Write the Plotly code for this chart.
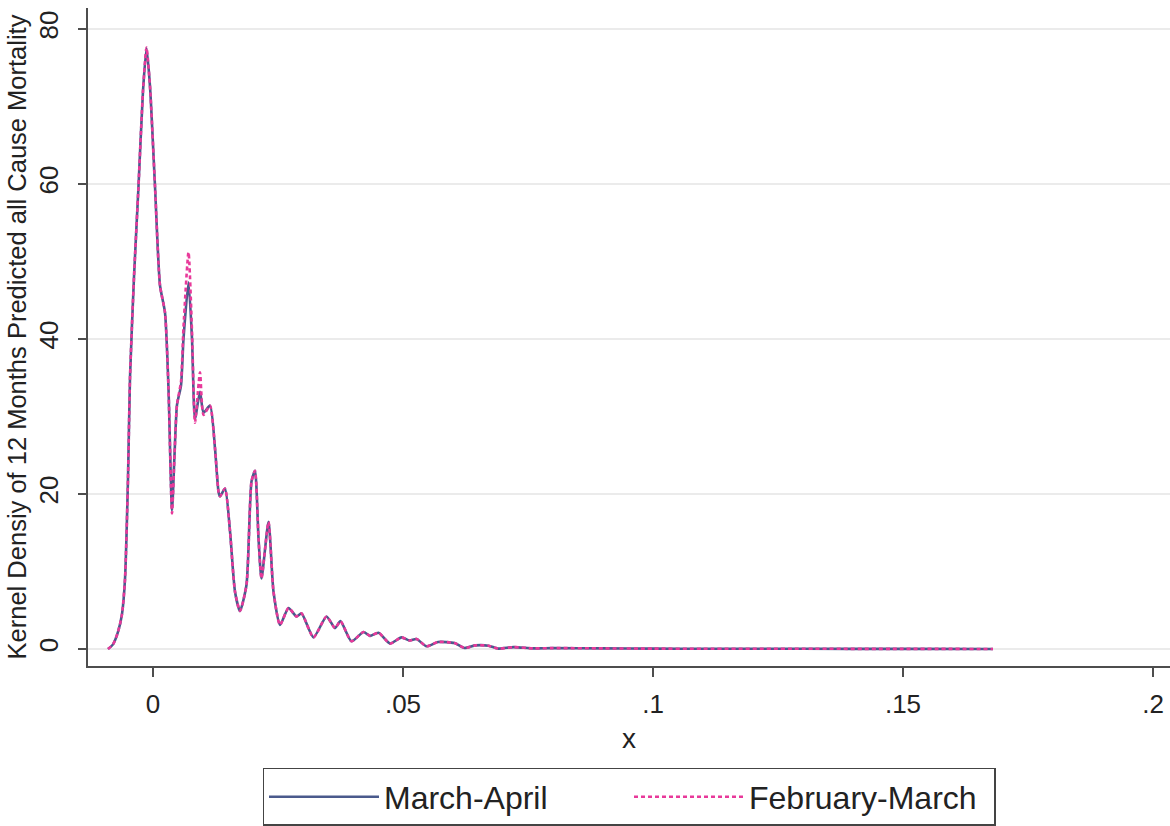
import plotly.graph_objects as go

# Kernel density estimates of 12-month predicted all-cause mortality
x_grid = [
    -0.0090, -0.0080, -0.0070, -0.0062, -0.0056, -0.0050, -0.0046, -0.0038,
    -0.0029, -0.0020, -0.0013, -0.0006, 0.0004, 0.0014, 0.0024, 0.0031,
    0.0038, 0.0043, 0.0048, 0.0056, 0.0061, 0.0071, 0.0078, 0.0084,
    0.0094, 0.0101, 0.0114, 0.0124, 0.0131, 0.0134, 0.0144, 0.0154,
    0.0164, 0.0174, 0.0187, 0.0197, 0.0204, 0.0211, 0.0217, 0.0231,
    0.0241, 0.0254, 0.0271, 0.0287, 0.0297, 0.0321, 0.0347, 0.0364,
    0.0375, 0.0397, 0.0421, 0.0434, 0.0451, 0.0474, 0.0497, 0.0513,
    0.0527, 0.0547, 0.0570, 0.0603, 0.0623, 0.0645, 0.0671, 0.0691,
    0.0721, 0.0760, 0.0800, 0.0900, 0.1000, 0.1100, 0.1300, 0.1500,
    0.1680,
]

density_mar_apr = [
    0.0, 0.6, 2.2, 4.5, 9.0, 22.0, 35.0, 48.0,
    59.7, 72.0, 77.5, 72.6, 59.7, 46.9, 43.4, 33.6,
    17.9, 25.0, 31.5, 34.0, 40.0, 47.3, 40.0, 29.7,
    33.2, 30.5, 31.4, 25.9, 20.3, 19.7, 20.7, 15.2,
    7.4, 4.9, 8.3, 21.6, 23.0, 14.3, 9.1, 16.4,
    7.4, 3.1, 5.3, 4.2, 4.6, 1.5, 4.2, 2.7,
    3.6, 1.0, 2.2, 1.7, 2.1, 0.7, 1.5, 1.1,
    1.3, 0.35, 0.9, 0.77, 0.13, 0.47, 0.43, 0.05,
    0.25, 0.08, 0.12, 0.08, 0.05, 0.04, 0.03, 0.02,
    0.01,
]

density_feb_mar = [
    0.0, 0.6, 2.2, 4.5, 9.0, 22.0, 35.0, 48.0,
    59.7, 72.0, 77.6, 72.6, 59.7, 46.9, 43.4, 33.6,
    17.5, 25.0, 31.5, 34.5, 41.5, 51.2, 41.0, 29.2,
    35.7, 30.2, 31.4, 25.9, 20.3, 19.7, 20.7, 15.2,
    7.4, 4.9, 8.3, 21.6, 23.0, 14.3, 9.1, 16.4,
    7.4, 3.1, 5.3, 4.2, 4.6, 1.5, 4.2, 2.7,
    3.6, 1.0, 2.2, 1.7, 2.1, 0.7, 1.5, 1.1,
    1.3, 0.35, 0.9, 0.77, 0.13, 0.47, 0.43, 0.05,
    0.25, 0.08, 0.12, 0.08, 0.05, 0.04, 0.03, 0.02,
    0.01,
]

x_tick_vals = [0, 0.05, 0.1, 0.15, 0.2]
x_tick_text = ["0", ".05", ".1", ".15", ".2"]
y_tick_vals = [0, 20, 40, 60, 80]

FONT = "Liberation Sans, Arial, sans-serif"
AXIS_GREY = "#4d4d4d"

fig = go.Figure()
fig.add_trace(go.Scatter(
    x=x_grid, y=density_mar_apr, mode="lines", name="March-April",
    line=dict(color="#4a5a8c", width=2.6, shape="spline", smoothing=0.6),
))
fig.add_trace(go.Scatter(
    x=x_grid, y=density_feb_mar, mode="lines", name="February-March",
    line=dict(color="#e8399a", width=2.6, dash="4px,3px", shape="spline", smoothing=0.6),
))

fig.update_layout(
    width=1170, height=826,
    margin=dict(l=88, r=0, t=8, b=158),
    paper_bgcolor="white", plot_bgcolor="white",
    font=dict(family=FONT, color="#222222"),
    showlegend=True,
    legend=dict(
        orientation="h", x=0.5, xanchor="center", y=-0.155, yanchor="top",
        bordercolor="#444444", borderwidth=1.5,
        font=dict(size=32, family=FONT, color="#222222"),
        itemwidth=110, entrywidth=240,
        traceorder="normal",
    ),
    xaxis=dict(
        range=[-0.013, 0.2034],
        tickvals=x_tick_vals, ticktext=x_tick_text,
        ticks="outside", ticklen=9, tickwidth=1.5, tickcolor=AXIS_GREY,
        ticklabelstandoff=5,
        showline=True, linecolor=AXIS_GREY, linewidth=2,
        showgrid=False, zeroline=False,
        tickfont=dict(size=26),
        title=dict(text="x", font=dict(size=28), standoff=10),
    ),
    yaxis=dict(
        range=[-2.19, 82.7],
        tickvals=y_tick_vals,
        ticks="outside", ticklen=8, tickwidth=1.5, tickcolor=AXIS_GREY,
        tickangle=-90, ticklabelstandoff=10,
        showline=True, linecolor=AXIS_GREY, linewidth=2,
        showgrid=True, gridcolor="#ebebeb", gridwidth=1.5,
        zeroline=False,
        tickfont=dict(size=26),
        title=dict(text="Kernel Densiy of 12 Months Predicted all Cause Mortality",
                   font=dict(size=25.5), standoff=0),
    ),
)

fig.write_html("out.html")
